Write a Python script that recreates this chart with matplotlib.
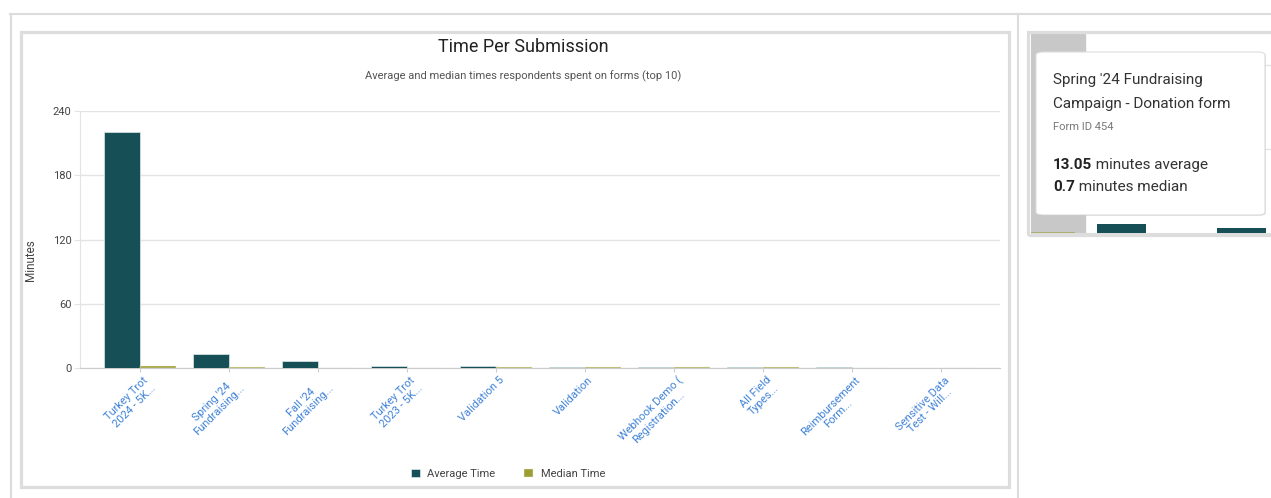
import matplotlib.pyplot as plt
import matplotlib.patches as mpatches
from matplotlib.lines import Line2D
from matplotlib.transforms import ScaledTranslation
import numpy as np

plt.rcParams['font.family'] = ['Roboto', 'DejaVu Sans']

# data
forms = ["Turkey Trot\n2024 - 5K...", "Spring '24\nFundraising...", "Fall '24\nFundraising...",
         "Turkey Trot\n2023 - 5K...", "Validation 5", "Validation", "Webhook Demo (\nRegistration...",
         "All Field\nTypes...", "Reimbursement\nForm...", "Sensitive Data\nTest - Will..."]
avg_time = [220.4, 13.05, 6.5, 1.6, 1.6, 1.2, 1.3, 0.8, 0.5, 0.3]
median_time = [1.5, 0.7, 0.3, 0.4, 1.4, 1.2, 1.1, 0.6, 0.4, 0.2]
y_ticks = [0, 60, 120, 180, 240]

teal = '#174f56'
olive = '#9d9d36'
W, H = 1271, 498

fig = plt.figure(figsize=(W / 100, H / 100), dpi=100)


def fx(px):
    return px / W


def fy(py):
    return 1 - py / H


# outer frame lines
frame_c = '#dcdcdc'
fig.add_artist(Line2D([fx(10), 1], [fy(14.5), fy(14.5)], color=frame_c, lw=1.5))
fig.add_artist(Line2D([fx(10.5), fx(10.5)], [fy(14), 0], color=frame_c, lw=1.5))
fig.add_artist(Line2D([fx(1017.5), fx(1017.5)], [fy(14), 0], color=frame_c, lw=1.5))

# main panel border
fig.add_artist(mpatches.Rectangle((fx(20.5), fy(487)), fx(988), (487 - 32) / H,
                                  transform=fig.transFigure, fill=False,
                                  edgecolor='#dddddd', lw=2.3))

# main chart
ax = fig.add_axes([fx(80), fy(368), fx(920), (368 - 111) / H])
x = np.arange(len(forms))
bw = 0.405
ax.bar(x - bw / 2, avg_time, bw, color=teal, edgecolor='#dfe9e9', lw=0.5, label='Average Time', zorder=3)
ax.bar(x + bw / 2, median_time, bw, color=olive, edgecolor='#eef0dc', lw=0.3, label='Median Time', zorder=3)
ax.set_xlim((80 - 140) / 89, (1000 - 140) / 89)
ax.set_ylim(0, 240)
ax.set_yticks(y_ticks)
ax.yaxis.grid(True, color='#e3e3e3', lw=1)
ax.set_axisbelow(True)
for s in ['top', 'right']:
    ax.spines[s].set_visible(False)
ax.spines['left'].set_color('#e3e3e3')
ax.spines['bottom'].set_color('#cccccc')
ax.tick_params(axis='y', colors='#e3e3e3', labelcolor='#444444', labelsize=8, length=4, pad=2)
ax.tick_params(axis='x', colors='#cccccc', labelcolor='#3f82d6', labelsize=8, length=3, pad=2)
ax.set_xticks(x)
ax.set_xticklabels(forms, rotation=45, ha='right', va='top', rotation_mode='anchor',
                   multialignment='center', linespacing=1.1)
shift = ScaledTranslation(0.03, 0, fig.dpi_scale_trans)
for lab in ax.get_xticklabels():
    lab.set_transform(lab.get_transform() + shift)
ax.set_ylabel('Minutes', fontsize=8.5, color='#444444')
ax.yaxis.set_label_coords((37 - 80) / 920, 0.42)

fig.text(fx(523), fy(47), 'Time Per Submission', ha='center', va='center', fontsize=13, color='#222222')
fig.text(fx(523), fy(76), 'Average and median times respondents spent on forms (top 10)',
         ha='center', va='center', fontsize=8, color='#555555')

fig.legend(loc='center', bbox_to_anchor=(fx(508), fy(474)), ncol=2, frameon=False,
           fontsize=8, handlelength=0.8, handleheight=0.8, handletextpad=0.7,
           columnspacing=2.6, labelcolor='#444444')

# right panel: zoomed view with tooltip
fig.add_artist(mpatches.Rectangle((fx(1027.5), fy(235)), fx(260), (235 - 32.5) / H,
                                  transform=fig.transFigure, fill=False,
                                  edgecolor='#dddddd', lw=2.3))
ax2 = fig.add_axes([fx(1031), fy(233), 1 - fx(1031), (233 - 34) / H])
ax2.bar(x - bw / 2, avg_time, bw, color=teal, zorder=3)
ax2.bar(x + bw / 2, median_time, bw, color=olive, zorder=3, alpha=0.6)
ax2.set_xlim((1031 - 1146) / 120 + 1, (1271 - 1146) / 120 + 1)
ax2.set_ylim(0, 199 / 0.7)
ax2.set_yticks([120, 240])
ax2.yaxis.grid(True, color='#e3e3e3', lw=1)
ax2.set_axisbelow(True)
ax2.set_xticks([])
ax2.tick_params(axis='y', length=0, labelleft=False)
for s in ['top', 'right', 'left']:
    ax2.spines[s].set_visible(False)
ax2.spines['bottom'].set_color('#dddddd')
ax2.axvspan(ax2.get_xlim()[0], (1085 - 1146) / 120 + 1, color='#c8c8c8', zorder=1)

# tooltip
shadow = mpatches.FancyBboxPatch((fx(1037), fy(216)), fx(229), (216 - 53) / H,
                                 boxstyle='round,pad=0,rounding_size=0.006',
                                 transform=fig.transFigure, facecolor='#00000018',
                                 edgecolor='none', zorder=5)
fig.add_artist(shadow)
tip = mpatches.FancyBboxPatch((fx(1036), fy(215)), fx(229), (215 - 52) / H,
                              boxstyle='round,pad=0,rounding_size=0.006',
                              transform=fig.transFigure, facecolor='white',
                              edgecolor='#dcdcdc', lw=0.8, zorder=6)
fig.add_artist(tip)

tc = '#333333'
fig.text(fx(1053), fy(80), "Spring '24 Fundraising", fontsize=11, color=tc, va='center', zorder=7)
fig.text(fx(1053), fy(104), 'Campaign - Donation form', fontsize=11, color=tc, va='center', zorder=7)
fig.text(fx(1053), fy(127), 'Form ID 454', fontsize=8, color='#777777', va='center', zorder=7)

renderer = fig.canvas.get_renderer()
for yy, val, rest in [(165, '13.05', ' minutes average'), (187, '0.7', ' minutes median')]:
    t = fig.text(fx(1053), fy(yy), val, fontsize=11, color='#222222', weight='bold', va='center', zorder=7)
    bb = t.get_window_extent(renderer)
    fig.text(bb.x1 / W, fy(yy), rest, fontsize=11, color=tc, va='center', zorder=7)

fig.savefig('out.png', dpi=100)
